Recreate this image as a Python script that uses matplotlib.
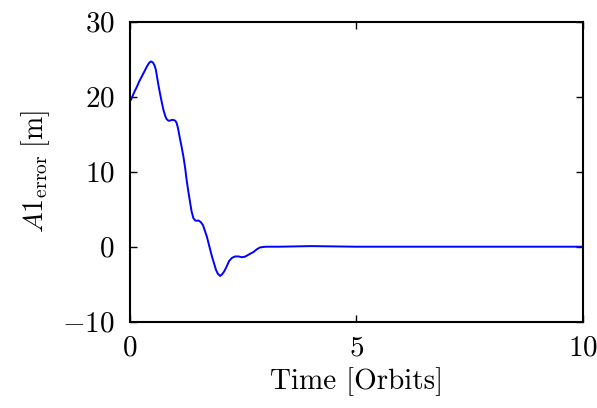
import numpy as np
import matplotlib
matplotlib.use('Agg')
import matplotlib.pyplot as plt

# values
t_orbits = [0.0, 0.02, 0.05, 0.10, 0.15, 0.20, 0.26, 0.32, 0.37, 0.42, 0.46, 0.50,
            0.54, 0.57, 0.59, 0.62, 0.66, 0.70, 0.74, 0.78, 0.81, 0.85, 0.88, 0.92,
            0.96, 1.00, 1.03, 1.06, 1.10, 1.14, 1.18, 1.22, 1.25, 1.29, 1.33, 1.36,
            1.40, 1.44, 1.47, 1.51, 1.56, 1.61, 1.65, 1.70, 1.75, 1.81, 1.86, 1.90,
            1.94, 1.99, 2.03, 2.08, 2.13, 2.19, 2.25, 2.32, 2.40, 2.47, 2.53, 2.58,
            2.65, 2.73, 2.80, 2.87, 2.95, 3.02, 3.3, 4.0, 5.0, 6.0, 7.0, 8.0, 9.0, 10.0]
a1_error = [19.4, 19.6, 20.0, 20.7, 21.3, 22.0, 22.7, 23.4, 24.0, 24.5, 24.7, 24.6,
            24.2, 23.6, 22.9, 21.8, 20.5, 19.3, 18.2, 17.4, 17.0, 16.8, 16.8, 16.9,
            16.9, 16.8, 16.5, 15.8, 14.5, 13.3, 12.0, 10.4, 8.9, 7.3, 5.8, 4.7,
            3.8, 3.5, 3.45, 3.5, 3.3, 2.9, 2.2, 1.3, 0.1, -1.3, -2.3, -3.1,
            -3.6, -3.9, -3.7, -3.3, -2.7, -1.9, -1.5, -1.3, -1.3, -1.4, -1.35, -1.2,
            -0.95, -0.7, -0.35, -0.1, -0.03, 0.0, 0.0, 0.08, 0.0, 0.0, 0.0, 0.0, 0.0, 0.0]

plt.rcParams['font.family'] = 'serif'
plt.rcParams['font.serif'] = ['cmr10']
plt.rcParams['mathtext.fontset'] = 'cm'
plt.rcParams['axes.formatter.use_mathtext'] = True
plt.rcParams['axes.unicode_minus'] = True

fig = plt.figure(figsize=(5.97, 4.08), dpi=100)
ax = fig.add_axes([0.2178, 0.2115, 0.976 - 0.2178, 0.9468 - 0.2115])

ax.plot(t_orbits, a1_error, color='#0000ff', linewidth=1.4)

ax.set_xlim(0, 10)
ax.set_ylim(-10, 30)
ax.set_xticks([0, 5, 10])
ax.set_yticks([-10, 0, 10, 20, 30])
ax.set_xticklabels(['$0$', '$5$', '$10$'])
ax.set_yticklabels(['$-10$', '$0$', '$10$', '$20$', '$30$'])
ax.tick_params(direction='in', length=5, width=1, top=True, right=True,
               labelsize=21)
ax.tick_params(axis='y', pad=11)
ax.tick_params(axis='x', pad=10)
for s in ax.spines.values():
    s.set_linewidth(1.5)

ax.set_xlabel('Time [Orbits]', fontsize=21, labelpad=4)
ax.set_ylabel(r'$A1_{\mathrm{error}}\;\mathrm{[m]}$', fontsize=20, labelpad=7)

fig.savefig('out.png', dpi=100)
